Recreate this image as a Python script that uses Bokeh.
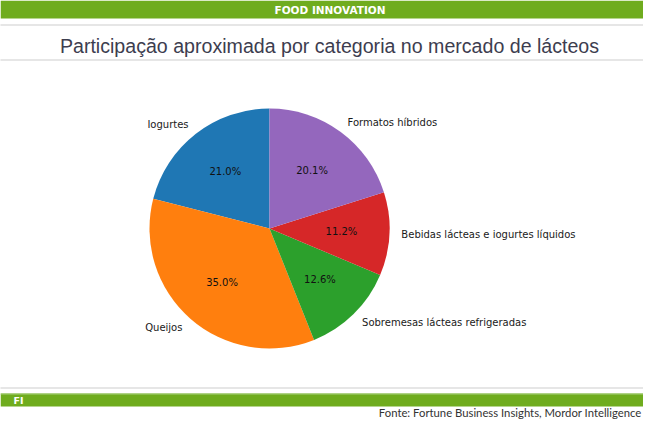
import math
from bokeh.plotting import figure
from bokeh.models import Range1d, Span, Label, BoxAnnotation, ColumnDataSource
from bokeh.core.properties import value
from bokeh.embed import file_html
from bokeh.resources import INLINE

# ---- data ----
categories = ["Iogurtes", "Queijos", "Sobremesas lácteas refrigeradas",
              "Bebidas lácteas e iogurtes líquidos", "Formatos híbridos"]
values = [21.0, 35.0, 12.6, 11.2, 20.1]
colors = ["#1f77b4", "#ff7f0e", "#2ca02c", "#d62728", "#9467bd"]
title_text = "Participação aproximada por categoria no mercado de lácteos"
banner_text = "FOOD INNOVATION"
footer_tag = "FI"
source_text = "Fonte: Fortune Business Insights, Mordor Intelligence"

# ---- design space: 1 data unit = 1 pixel, y measured upward ----
W, H = 643, 420
GREEN = "#6FAC1E"

p = figure(width=W, height=H, x_range=Range1d(0, W), y_range=Range1d(0, H),
           output_backend="svg", toolbar_location=None, min_border=0,
           x_axis_location=None, y_axis_location=None)
p.grid.visible = False
p.outline_line_color = None
p.background_fill_color = "white"
p.border_fill_color = "white"

def Y(top_px):
    return H - top_px

# pie geometry
cx, cy, r = 269, Y(228), 120
total = sum(values)
starts, ends, mids = [], [], []
acc = 0.0
for v in values:
    a0 = math.pi / 2 + 2 * math.pi * acc / total
    acc += v
    a1 = math.pi / 2 + 2 * math.pi * acc / total
    starts.append(a0)
    ends.append(a1)
    mids.append((a0 + a1) / 2)

pie_src = ColumnDataSource(dict(start=starts, end=ends, color=colors, cat=categories, val=values))
p.wedge(x=cx, y=cy, radius=r, start_angle="start", end_angle="end",
        fill_color="color", line_color=None, source=pie_src)

# percentage labels
pct = ["%1.1f%%" % (100 * v / total) for v in values]
pct_src = ColumnDataSource(dict(
    x=[cx + 0.6 * r * math.cos(m) for m in mids],
    y=[cy + 0.6 * r * math.sin(m) for m in mids],
    t=pct))
p.text(x="x", y="y", text="t", source=pct_src, text_align="center", text_baseline="middle",
       text_font=value("DejaVu Sans"), text_font_size=value("10px"), text_color="#111111")

# category labels
left = dict(x=[], y=[], t=[])
right = dict(x=[], y=[], t=[])
for c, m in zip(categories, mids):
    lx = cx + 1.1 * r * math.cos(m)
    ly = cy + 1.1 * r * math.sin(m)
    d = left if lx > cx else right
    d["x"].append(lx); d["y"].append(ly); d["t"].append(c)
for d, al in ((left, "left"), (right, "right")):
    p.text(x="x", y="y", text="t", source=ColumnDataSource(d), text_align=al,
           text_baseline="middle", text_font=value("DejaVu Sans"),
           text_font_size=value("10px"), text_color="#1a1a1a")

# ---- page decorations ----
p.add_layout(BoxAnnotation(bottom=Y(18), top=H, fill_color=GREEN, fill_alpha=1, line_color=None))
p.add_layout(Label(x=329.5, y=Y(9), text=banner_text, text_align="center", text_baseline="middle",
                   text_font="DejaVu Sans", text_font_style="bold", text_font_size="10.5px",
                   text_color="white"))
for yy in (24.5, 59.5, 387.5):
    p.add_layout(Span(location=Y(yy), dimension="width", line_color="#9a9a9a",
                      line_width=1, line_dash="1 1"))
p.add_layout(Label(x=329, y=Y(45), text=title_text, text_align="center",
                   text_baseline="alphabetic", text_font="Liberation Sans",
                   text_font_size="19.6px", text_color="#3d3d4f"))

p.add_layout(BoxAnnotation(bottom=Y(406), top=Y(393), fill_color=GREEN, fill_alpha=1, line_color=None))
p.add_layout(Span(location=Y(393.5), dimension="width", line_color="#a8cf7c", line_width=1))
p.add_layout(Label(x=13, y=Y(399.5), text=footer_tag, text_align="left", text_baseline="middle",
                   text_font="DejaVu Sans", text_font_style="bold", text_font_size="9.5px",
                   text_color="white"))
p.add_layout(Label(x=641, y=Y(412), text=source_text, text_align="right", text_baseline="middle",
                   text_font="Lato", text_font_size="11.3px", text_color="#333333"))

open("out.html", "w").write(file_html(p, INLINE))
